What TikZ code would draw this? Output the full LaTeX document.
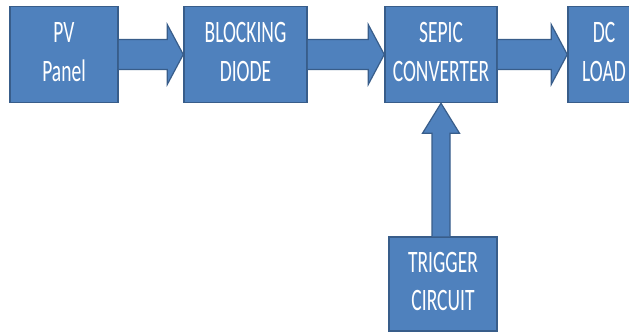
\documentclass[tikz,border=0pt]{standalone}
\usepackage{fontspec}
\setmainfont{Carlito}
\usetikzlibrary{positioning,calc}

\begin{document}
\begin{tikzpicture}[x=1pt,y=-1pt]
    \definecolor{colfill}{HTML}{4F81BD}
    \definecolor{colline}{HTML}{385D8A}
    \tikzstyle{blk}=[rectangle,draw=colline,fill=colfill,line width=1.5pt,inner sep=0pt,
                     text=white,font=\fontsize{19.5}{24}\selectfont]
    \tikzstyle{fat}=[draw=colline,fill=colfill,line width=1.2pt,line join=miter]
    \newcommand{\lbl}[1]{\scalebox{1}[1.6]{\begin{tabular}{@{}c@{}}#1\end{tabular}}}
    \newcommand{\harrow}[2]{%
      \draw[fat] ($(#1.east)+(0,-15)$) -- ($(#2.west)+(-16,-15)$) -- ($(#2.west)+(-16,-30)$)
        -- (#2.west) -- ($(#2.west)+(-16,30)$) -- ($(#2.west)+(-16,15)$) -- ($(#1.east)+(0,15)$);}
    % page
    \useasboundingbox (0,0) rectangle (629,333);
    \clip (0,0) rectangle (629,333);
    % blocks
    \node[blk,minimum width=108pt,minimum height=96pt] (pv) at (64,54.5) {\lbl{PV\\Panel}};
    \node[blk,minimum width=123pt,minimum height=96pt] (diode) at (245.5,54.5) {\lbl{BLOCKING\\DIODE}};
    \node[blk,minimum width=112pt,minimum height=96pt] (sepic) at (441,54.5) {\lbl{SEPIC\\CONVERTER}};
    \node[blk,minimum width=72pt,minimum height=96pt] (load) at (604,54.5) {\lbl{DC\\LOAD}};
    \node[blk,minimum width=108pt,minimum height=94pt] (trig) at (443,284) {\lbl{TRIGGER\\CIRCUIT}};
    % arrows
    \harrow{pv}{diode}
    \harrow{diode}{sepic}
    \harrow{sepic}{load}
    \draw[fat] ($(trig.north -| sepic.south)+(-9,0)$) -- ($(sepic.south)+(-9,30)$) -- ($(sepic.south)+(-18.5,30)$)
        -- (sepic.south) -- ($(sepic.south)+(18.5,30)$) -- ($(sepic.south)+(9,30)$) -- ($(trig.north -| sepic.south)+(9,0)$);
\end{tikzpicture}
\end{document}
